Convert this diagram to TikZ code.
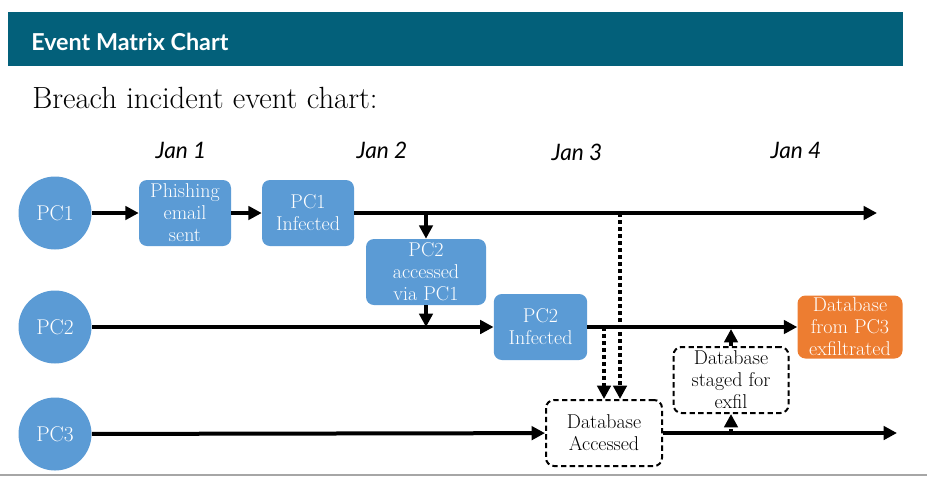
\documentclass[tikz,border=0pt]{standalone}
\usepackage{fontspec}
\newfontfamily\lato{Lato}
\usetikzlibrary{arrows.meta}
\definecolor{barteal}{RGB}{3,96,122}
\definecolor{evblue}{RGB}{91,155,213}
\definecolor{evorange}{RGB}{237,125,49}
\begin{document}
\begin{tikzpicture}[x=0.75pt,y=-0.75pt,
    pcnode/.style={circle,fill=evblue,minimum size=54.75pt,inner sep=0pt,text=white,font=\fontsize{16}{18}\selectfont},
    evbox/.style={rounded corners=6pt,fill=evblue,minimum width=69pt,minimum height=49.5pt,inner sep=0pt,align=center,text=white,font=\fontsize{15}{16.5}\selectfont},
    dashbox/.style={evbox,fill=none,draw=black,line width=1.5pt,dash pattern=on 4pt off 2.5pt,text=black},
    flow/.style={line width=3pt,-{Triangle[length=10pt,width=10pt]}},
    dotflow/.style={flow,dash pattern=on 3pt off 2.25pt},
    datelbl/.style={font=\lato\itshape\fontsize{17}{20}\selectfont,anchor=base}]
                \useasboundingbox (0,0) rectangle (927,476);
                \fill[barteal] (8,12) rectangle (903,66);
                \node[anchor=base west,text=white,font=\lato\bfseries\fontsize{17.5}{20}\selectfont,inner sep=0pt] (title) at (31,50) {Event Matrix Chart};
                \node[anchor=base west,font=\fontsize{23}{27}\selectfont,inner sep=0pt] (subtitle) at (32,108) {Breach incident event chart:};
                \node[datelbl] (d1) at (181,158) {Jan 1};
                \node[datelbl] (d2) at (382,158) {Jan 2};
                \node[datelbl] (d3) at (577,160) {Jan 3};
                \node[datelbl] (d4) at (796,158) {Jan 4};
                \node[pcnode] (pc1) at (55,213) {PC1};
                \node[pcnode] (pc2) at (55,327) {PC2};
                \node[pcnode] (pc3) at (55,434) {PC3};
                \node[evbox] (phish) at (185,213) {Phishing\\email\\sent};
                \node[evbox] (inf1) at (308,213) {PC1\\Infected};
                \node[evbox,minimum width=90pt] (acc2) at (426,272) {PC2\\accessed\\via PC1};
                \node[evbox,minimum width=70pt] (inf2) at (540.5,327) {PC2\\Infected};
                \node[evbox,fill=evorange,minimum width=78.75pt,minimum height=47.25pt] (exfil) at (850,327) {Database\\from PC3\\exfiltrated};
                \node[dashbox,minimum width=87pt] (dbacc) at (604,433) {Database\\Accessed};
                \node[dashbox,minimum width=86.25pt] (staged) at (731,380) {Database\\staged for\\exfil};
                \coordinate (end1) at (877,213);
                \coordinate (end3) at (897,433);
                \coordinate (tap1) at (426,213);
                \coordinate (tap2) at (426,327);
                \coordinate (tap3) at (620,213);
                \coordinate (tap4) at (604,327);
                \coordinate (tap5) at (731,433);
                \coordinate (tap6) at (731,329);
                \draw[flow] (pc1) -- (phish);
                \draw[flow] (phish) -- (inf1);
                \draw[flow] (inf1) -- (end1);
                \draw[flow] (tap1) -- (acc2);
                \draw[flow] (acc2) -- (tap2);
                \draw[flow] (pc2) -- (inf2);
                \draw[flow] (inf2) -- (exfil);
                \draw[flow] (pc3) -- (dbacc);
                \draw[flow] (dbacc) -- (end3);
                \draw[dotflow] (tap3) -- (tap3 |- dbacc.north);
                \draw[dotflow] (tap4) -- (tap4 |- dbacc.north);
                \draw[dotflow] (tap5) -- (staged);
                \draw[dotflow] (staged) -- (tap6);
                \draw[gray!70,line width=1pt] (0,475) -- (927,475);
            \end{tikzpicture}
\end{document}
